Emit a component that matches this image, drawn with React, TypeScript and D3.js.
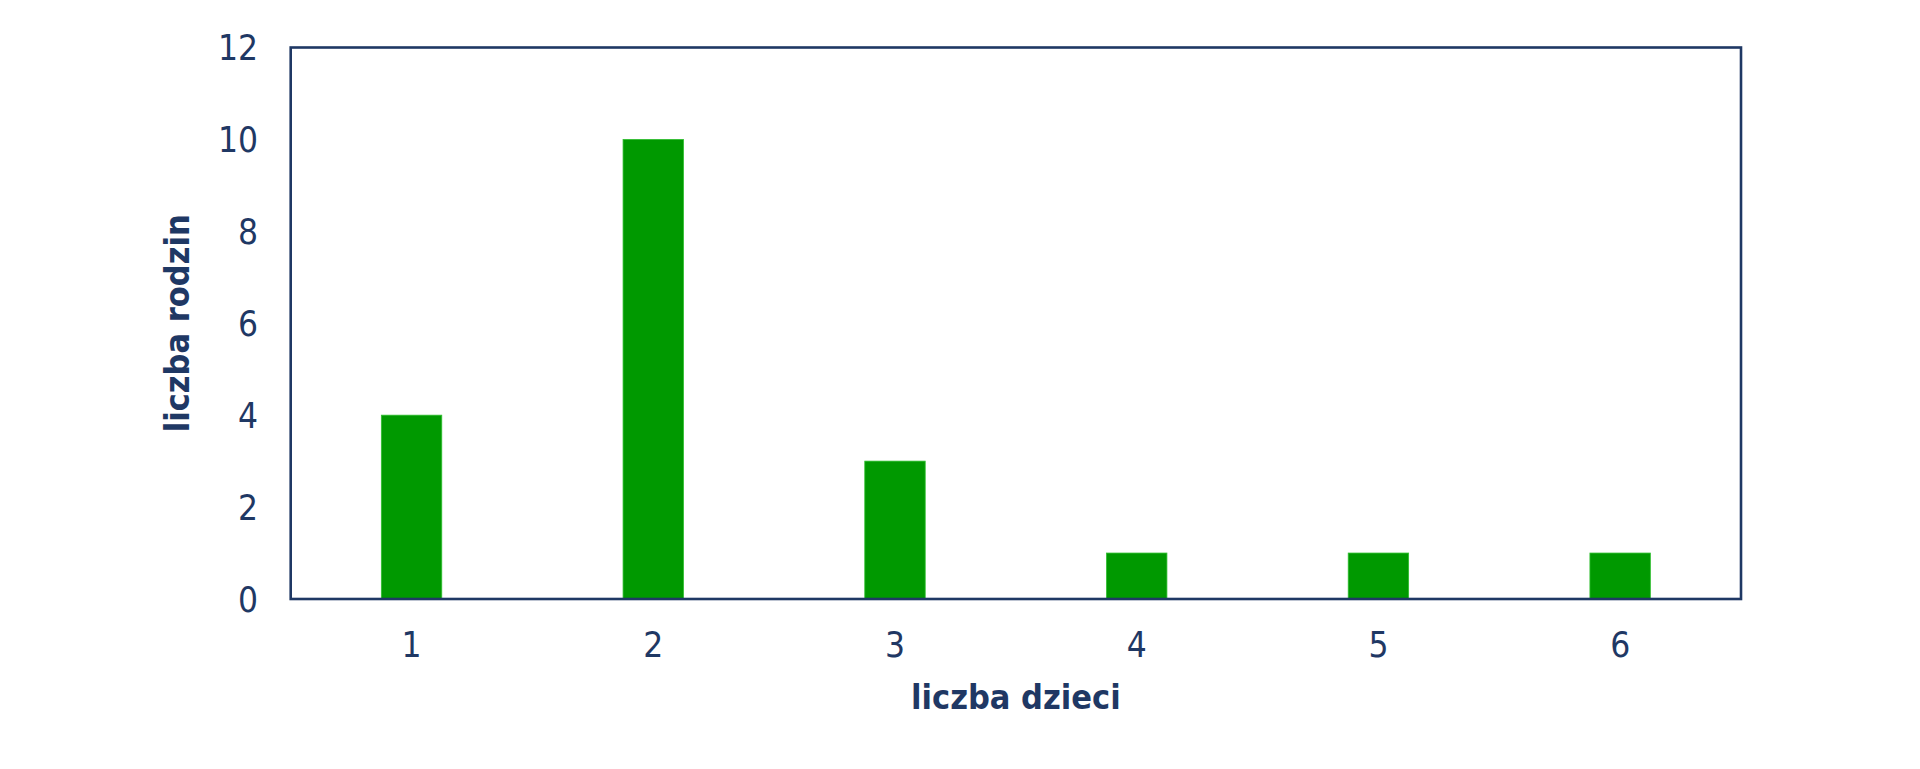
import * as d3 from "d3";
import { useEffect } from "react";

const categories = ["1", "2", "3", "4", "5", "6"];
const families = [4, 10, 3, 1, 1, 1];
const yTicks = [0, 2, 4, 6, 8, 10, 12];
const xTitle = "liczba dzieci";
const yTitle = "liczba rodzin";

const navy = "#1f3864";
const green = "#009900";
const font = "'DejaVu Sans Condensed', 'DejaVu Sans', sans-serif";

export default function App() {
  useEffect(() => {
    document.body.style.margin = "0";
  }, []);

  const width = 1920;
  const height = 769;
  const left = 290.7;
  const right = 1741;
  const top = 47.5;
  const bottom = 599;

  const x = d3
    .scaleBand<string>()
    .domain(categories)
    .range([left, right])
    .paddingInner(0.75)
    .paddingOuter(0.375);

  const y = d3.scaleLinear().domain([0, 12]).range([bottom, top]);

  return (
    <svg width={width} height={height} style={{ display: "block" }} fontFamily={font}>
      <rect x={0} y={0} width={width} height={height} fill="#ffffff" />

      {/* bars */}
      {families.map((v, i) => (
        <rect
          key={categories[i]}
          x={x(categories[i])}
          y={y(v)}
          width={x.bandwidth()}
          height={y(0) - y(v)}
          fill={green}
          stroke="#2fbf2f"
          strokeWidth={0.8}
        />
      ))}

      {/* plot frame */}
      <rect
        x={left}
        y={top}
        width={right - left}
        height={bottom - top}
        fill="none"
        stroke={navy}
        strokeWidth={2.6}
      />

      {/* y tick labels */}
      {yTicks.map((t) => (
        <text
          key={t}
          x={258}
          y={y(t)}
          dy="0.36em"
          textAnchor="end"
          fontSize={35}
          fill={navy}
        >
          {t}
        </text>
      ))}

      {/* x tick labels */}
      {categories.map((c) => (
        <text
          key={c}
          x={(x(c) ?? 0) + x.bandwidth() / 2}
          y={657}
          textAnchor="middle"
          fontSize={35}
          fill={navy}
        >
          {c}
        </text>
      ))}

      {/* axis titles */}
      <text
        x={(left + right) / 2}
        y={709}
        textAnchor="middle"
        fontSize={34}
        fontWeight="bold"
        fill={navy}
      >
        {xTitle}
      </text>
      <text
        transform={`translate(189,${(top + bottom) / 2}) rotate(-90)`}
        textAnchor="middle"
        fontSize={34}
        fontWeight="bold"
        fill={navy}
      >
        {yTitle}
      </text>
    </svg>
  );
}
